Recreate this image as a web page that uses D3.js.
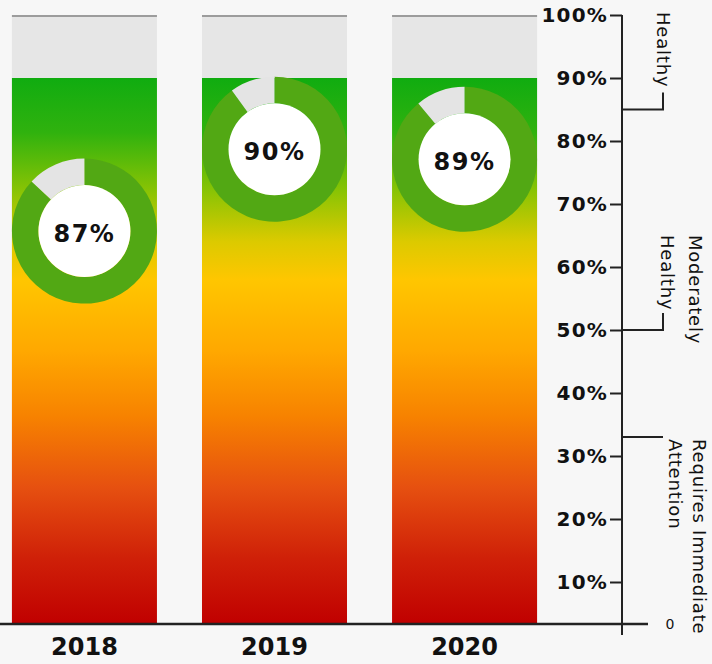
<!DOCTYPE html>
<html>
<head>
<meta charset="utf-8">
<script src="https://cdn.jsdelivr.net/npm/d3@7"></script>
<style>
	body { margin:0; background:#f7f7f7; }
	svg { display:block; }
	text { font-family:"DejaVu Sans", sans-serif; fill:#111; }
</style>
</head>
<body>
<div id="health-container"></div>
<script>
var years = ["2018","2019","2020"]
var barLevel = [90, 90, 90]
var scores = [87, 90, 89]
// where each donut sits, in axis units
var donutLevel = [65.7, 78.7, 77.1]
var tickValues = [10,20,30,40,50,60,70,80,90,100]
var bands = [
	{lines:["Healthy"], at:85, from:100, hook:true},
	{lines:["Moderately","Healthy"], at:50, from:65.4, hook:true},
	{lines:["Requires Immediate","Attention"], at:33, from:33, hook:false}
]
var gradientStops = [
	[0,"#10ac10"],[0.1,"#30b20e"],[0.21,"#8cc404"],[0.3,"#dcca00"],
	[0.37,"#ffc600"],[0.5,"#ffa800"],[0.62,"#f78200"],[0.75,"#e65010"],
	[0.88,"#cf2008"],[1,"#c00000"]
]

var health = {}
health.width = 712
health.height = 664
health.axisX = 622

health.x = d3.scaleBand()
	.domain(years)
	.range([-10.5, 559.5])
	.paddingInner(0.237)
	.paddingOuter(0.118)

health.y = d3.scaleLinear()
	.domain([0, 10, 100])
	.range([624, 582, 15])

health.chart = d3.select("#health-container")
	.append("svg")
	.attr("width", health.width)
	.attr("height", health.height)

var grad = health.chart.append("defs")
	.append("linearGradient")
	.attr("id","bar-grad")
	.attr("gradientUnits","userSpaceOnUse")
	.attr("x1",0).attr("x2",0)
	.attr("y1",health.y(90))
	.attr("y2",health.y(0))
grad.selectAll("stop")
	.data(gradientStops)
	.enter()
	.append("stop")
	.attr("offset",function(d){ return d[0] })
	.attr("stop-color",function(d){ return d[1] })

// grey track up to 100%
health.chart.selectAll(".track")
	.data(years)
	.enter()
	.append("rect")
	.attr("class","track")
	.attr("x",function(d){ return health.x(d) })
	.attr("y",health.y(100))
	.attr("width",health.x.bandwidth())
	.attr("height",health.y(0)-health.y(100))
	.attr("fill","#e6e6e6")

health.chart.selectAll(".track-top")
	.data(years)
	.enter()
	.append("line")
	.attr("x1",function(d){ return health.x(d) })
	.attr("x2",function(d){ return health.x(d)+health.x.bandwidth() })
	.attr("y1",health.y(100)+1)
	.attr("y2",health.y(100)+1)
	.attr("stroke","#9c9c9c")
	.attr("stroke-width",2)

health.chart.selectAll(".bar")
	.data(barLevel)
	.enter()
	.append("rect")
	.attr("class","bar")
	.attr("x",function(d,i){ return health.x(years[i]) })
	.attr("y",function(d){ return health.y(d) })
	.attr("width",health.x.bandwidth())
	.attr("height",function(d){ return health.y(0)-health.y(d) })
	.attr("fill","url(#bar-grad)")

// donuts
var rOut = health.x.bandwidth()/2
var rIn = 46
var pie = d3.pie().sort(null)
var arc = d3.arc().innerRadius(rIn).outerRadius(rOut)

health.donuts = health.chart.selectAll(".donut")
	.data(scores)
	.enter()
	.append("g")
	.attr("class","donut")
	.attr("transform",function(d,i){
		return "translate("+(health.x(years[i])+health.x.bandwidth()/2)+","+health.y(donutLevel[i])+")"
	})

health.donuts.selectAll("path")
	.data(function(d){ return pie([d, 100-d]) })
	.enter()
	.append("path")
	.attr("d",arc)
	.attr("fill",function(d,i){ return i==0 ? "#52a814" : "#e4e4e4" })

health.donuts.append("circle")
	.attr("r",rIn)
	.attr("fill","#ffffff")

health.donuts.append("text")
	.attr("text-anchor","middle")
	.attr("dy","0.36em")
	.attr("y",2)
	.style("font-size","24px")
	.style("font-weight","bold")
	.style("letter-spacing","1.5px")
	.text(function(d){ return d+"%" })

// baseline + axis
health.chart.append("line")
	.attr("x1",0).attr("x2",648)
	.attr("y1",health.y(0)).attr("y2",health.y(0))
	.attr("stroke","#222").attr("stroke-width",2.5)

health.chart.append("line")
	.attr("x1",health.axisX).attr("x2",health.axisX)
	.attr("y1",health.y(100)).attr("y2",health.y(0)+11)
	.attr("stroke","#222").attr("stroke-width",2)

var axis = health.chart.append("g")
	.attr("transform","translate("+health.axisX+",0)")
	.call(d3.axisLeft(health.y)
		.tickValues(tickValues)
		.tickSize(12)
		.tickPadding(2)
		.tickFormat(function(d){ return d+"%" }))
axis.select(".domain").remove()
axis.selectAll(".tick line").attr("stroke","#222").attr("stroke-width",2)
axis.selectAll(".tick text")
	.attr("fill","#111")
	.style("font-family","DejaVu Sans, sans-serif")
	.style("font-size","20px")
	.style("font-weight","bold")
	.style("letter-spacing","1.2px")

health.chart.append("text")
	.attr("x",670)
	.attr("y",health.y(0))
	.attr("dy","0.36em")
	.attr("text-anchor","middle")
	.style("font-size","14px")
	.text("0")

// year labels
health.chart.selectAll(".year")
	.data(years)
	.enter()
	.append("text")
	.attr("class","year")
	.attr("x",function(d){ return health.x(d)+health.x.bandwidth()/2 })
	.attr("y",655)
	.attr("text-anchor","middle")
	.style("font-size","24px")
	.style("font-weight","bold")
	.text(function(d){ return d })

// band brackets on the right
var hookX = 663
health.chart.selectAll(".band-line")
	.data(bands)
	.enter()
	.append("path")
	.attr("fill","none")
	.attr("stroke","#222")
	.attr("stroke-width",2)
	.attr("d",function(d){
		var yy = health.y(d.at)
		var p = "M"+health.axisX+","+yy+"H"+hookX
		if (d.hook) p += "V"+(yy-17)
		return p
	})

var baseX = [[657],[689,661],[693,669]]
bands.forEach(function(b,bi){
	b.lines.forEach(function(line,li){
		var tx = baseX[bi][li]
		var ty = health.y(b.from)+(bi==0 ? -3 : 2)
		health.chart.append("text")
			.attr("transform","translate("+tx+","+ty+") rotate(90)")
			.style("font-size","18px")
			.style("letter-spacing","0.8px")
			.text(line)
	})
})
</script>
</body>
</html>
